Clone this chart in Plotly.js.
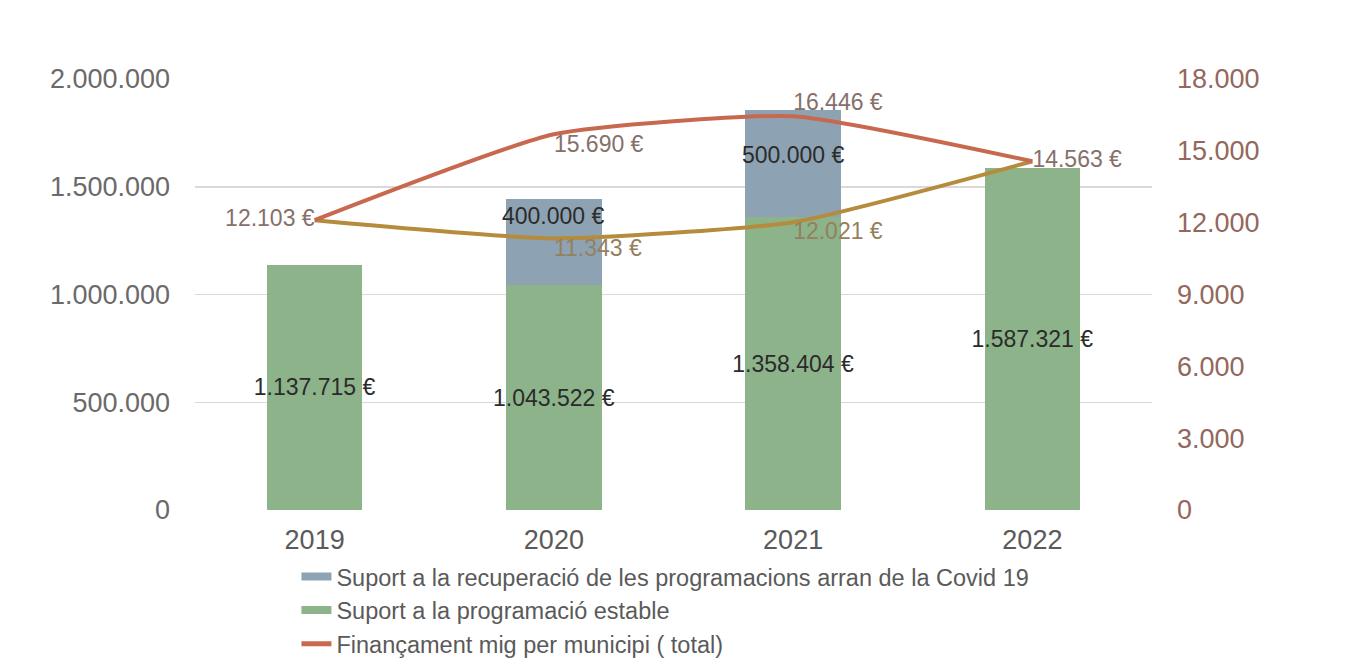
<!DOCTYPE html>
<html>
<head>
<meta charset="utf-8">
<script src="https://cdn.plot.ly/plotly-3.0.1.min.js"></script>
<style>html,body{margin:0;padding:0;background:#fff;}#chart{width:1350px;height:670px;}</style>
</head>
<body>
<div id="chart"></div>
<script>
var years = ['2019', '2020', '2021', '2022'];
var estable = [1137715, 1043522, 1358404, 1587321];
var covid = [null, 400000, 500000, null];
var mitjanaTotal = [12103, 15690, 16446, 14563];
var mitjanaEstable = [12103, 11343, 12021, 14563];
var leftTicks = [0, 500000, 1000000, 1500000, 2000000];
var rightTicks = [0, 3000, 6000, 9000, 12000, 15000, 18000];
var legendNames = [
  'Suport a la recuperació de les programacions arran de la Covid 19',
  'Suport a la programació estable',
  'Finançament mig per municipi ( total)'
];

var green = '#8cb38a', blue = '#8da3b3', red = '#c8694f', gold = '#b58b3c';
var font = 'Liberation Sans, Arial, sans-serif';
var barText = {family: font, size: 23, color: '#2b2b2b'};

// label placement (style): pixel shift of the covid labels below the stack top
var covidLabelShift = [0, -2, -30, 0];

function fmt(v) {
  return String(Math.round(v)).replace(/\B(?=(\d{3})+(?!\d))/g, '.') + ' €';
}

var traces = [
  {
    type: 'bar', x: years, y: estable, name: legendNames[1], showlegend: false,
    marker: {color: green}, width: 0.4,
    texttemplate: '%{y:,.0f} €', textposition: 'inside', insidetextanchor: 'middle',
    textangle: 0, constraintext: 'none', cliponaxis: false,
    textfont: barText, hoverinfo: 'none'
  },
  {
    type: 'bar', x: years, y: covid, name: legendNames[0], showlegend: false,
    marker: {color: blue}, width: 0.4, textposition: 'none', hoverinfo: 'none'
  },
  {
    type: 'scatter', mode: 'lines+text', x: years, y: mitjanaEstable, yaxis: 'y2',
    showlegend: false, line: {color: gold, width: 4, shape: 'spline', smoothing: 0.5},
    texttemplate: mitjanaEstable.map(function (v, i) { return (i === 1 || i === 2) ? '%{y:,.0f} €' : ''; }),
    textposition: ['middle right', 'bottom right', 'bottom right', 'middle right'],
    textfont: {family: font, size: 23, color: '#94805f'}, hoverinfo: 'none', cliponaxis: false
  },
  {
    type: 'scatter', mode: 'lines+text', x: years, y: mitjanaTotal, yaxis: 'y2',
    name: legendNames[2], showlegend: false,
    line: {color: red, width: 4, shape: 'spline', smoothing: 0.5},
    texttemplate: '%{y:,.0f} €',
    textposition: ['middle left', 'bottom right', 'top right', 'middle right'],
    textfont: {family: font, size: 23, color: '#86706a'}, hoverinfo: 'none', cliponaxis: false
  },
  {type: 'scatter', mode: 'lines', x: [null], y: [null], name: legendNames[0], line: {color: blue, width: 8}},
  {type: 'scatter', mode: 'lines', x: [null], y: [null], name: legendNames[1], line: {color: green, width: 8}},
  {type: 'scatter', mode: 'lines', x: [null], y: [null], name: legendNames[2], line: {color: red, width: 5}}
];

var annotations = [];
years.forEach(function (yr, i) {
  if (covid[i] == null) return;
  annotations.push({
    x: i, y: estable[i] + covid[i], xref: 'x', yref: 'y',
    text: fmt(covid[i]), showarrow: false, yanchor: 'top', xanchor: 'center',
    yshift: covidLabelShift[i], font: barText
  });
});

var layout = {
  width: 1350, height: 670,
  margin: {l: 195, r: 198, t: 79, b: 160},
  paper_bgcolor: '#ffffff', plot_bgcolor: '#ffffff',
  barmode: 'stack',
  separators: ',.',
  font: {family: font, color: '#666'},
  showlegend: true,
  annotations: annotations,
  legend: {
    x: 0.106, xanchor: 'left', yref: 'container', y: 0.172, yanchor: 'top', orientation: 'v',
    font: {family: font, size: 23.5, color: '#5a5a5a'},
    tracegroupgap: 0, itemwidth: 30, traceorder: 'normal',
    bgcolor: 'rgba(0,0,0,0)'
  },
  xaxis: {
    type: 'category', range: [-0.5, years.length - 0.5], showgrid: false, showline: false, zeroline: false,
    tickfont: {family: font, size: 27, color: '#5a5a5a'}, ticklabelstandoff: 11
  },
  yaxis: {
    range: [0, 2000000], tickvals: leftTicks, tickformat: ',d',
    showgrid: true, gridcolor: '#d9d9d9', gridwidth: 1.5, zeroline: false, showline: false,
    tickfont: {family: font, size: 27, color: '#6a6a6a'}, ticklabelstandoff: 24
  },
  yaxis2: {
    overlaying: 'y', side: 'right', range: [0, 18000], tickvals: rightTicks, tickformat: ',d',
    showgrid: false, zeroline: false, showline: false,
    tickfont: {family: font, size: 27, color: '#93675d'}, ticklabelstandoff: 24
  }
};

Plotly.newPlot('chart', traces, layout, {displayModeBar: false, staticPlot: true});
</script>
</body>
</html>
